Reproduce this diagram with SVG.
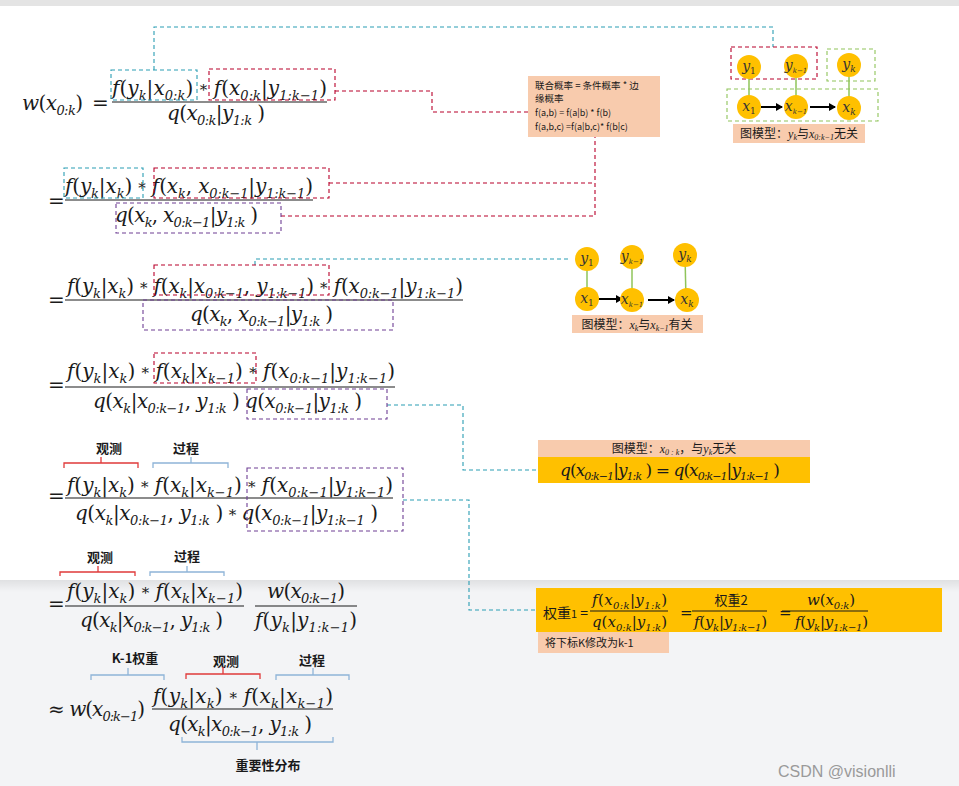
<svg xmlns="http://www.w3.org/2000/svg" width="959" height="786" viewBox="0 0 959 786">
<defs>
<style>
.m{font-family:"DejaVu Serif","Liberation Serif",serif;font-size:20px;font-style:italic;fill:#1a1a1a}
.m2{font-family:"DejaVu Serif","Liberation Serif",serif;font-size:15px;font-style:italic;fill:#1a1a1a}
.m3{font-family:"DejaVu Serif","Liberation Serif",serif;font-size:17px;font-style:italic;fill:#1a1a1a}
.u{font-style:normal}
.st{font-style:normal;font-size:15px}
.b{font-size:13px}
.b2{font-size:10px}
.b3{font-size:11px}
.cj{font-family:"Noto Sans CJK SC","Noto Sans",sans-serif;fill:#1a1a1a}
.lab{font-family:"Noto Sans CJK SC","Noto Sans",sans-serif;font-size:13px;font-weight:bold;fill:#1a1a1a;text-anchor:middle}
.bar{stroke:#1a1a1a;stroke-width:1.2}
.tb{fill:none;stroke:#2a9db3;stroke-width:1.1;stroke-dasharray:4 3}
.rb{fill:none;stroke:#b8002a;stroke-width:1.1;stroke-dasharray:4 3}
.pb{fill:none;stroke:#6e3f94;stroke-width:1.1;stroke-dasharray:4 3}
.gb{fill:none;stroke:#8fc45a;stroke-width:1.1;stroke-dasharray:4 3}
.br-r{fill:none;stroke:#e03a3a;stroke-width:1.3}
.br-b{fill:none;stroke:#8eb4d8;stroke-width:1.3}
.nd{fill:#ffc000}
.gl{stroke:#8fc45a;stroke-width:1.5}
.ar{stroke:#000;stroke-width:2;marker-end:url(#ah)}
.nl{font-family:"DejaVu Serif","Liberation Serif",serif;font-size:14px;font-style:italic;fill:#333;text-anchor:middle}
.peach{fill:#f8cbad}
.orange{fill:#ffc000}
</style>
<marker id="ah" markerWidth="8" markerHeight="8" refX="6" refY="4" orient="auto" markerUnits="userSpaceOnUse">
<path d="M0,0 L7,4 L0,8 z" fill="#000"/>
</marker>
<linearGradient id="sh" x1="0" y1="0" x2="0" y2="1">
<stop offset="0" stop-color="#000" stop-opacity="0.08"/>
<stop offset="1" stop-color="#000" stop-opacity="0"/>
</linearGradient>
</defs>

<rect x="0" y="0" width="959" height="786" fill="#f3f4f6"/>
<rect x="0" y="0" width="959" height="6" fill="#e4e4e4"/>
<rect x="0" y="6" width="959" height="574" fill="#ffffff"/>
<rect x="0" y="580" width="959" height="12" fill="url(#sh)"/>

<g id="connectors">
<polyline class="tb" points="154,70 154,27 773,27 773,47"/>
<polyline class="rb" points="335,91 432,91 432,112 528,112"/>
<polyline class="rb" points="329,183 595,183"/>
<polyline class="rb" points="281,216 595,216 595,137"/>
<polyline class="tb" points="255,265 255,259 568,259"/>
<polyline class="tb" points="387,405 463,405 463,470 538,470"/>
<polyline class="tb" points="403,500 469,500 469,610 536,610"/>
</g>

<g id="line1">
<text class="m" x="22" y="110" textLength="61">w<tspan class="u">(</tspan>x<tspan class="b" dy="5">0:k</tspan><tspan class="u" dy="-5">)</tspan></text>
<text class="m u" x="92" y="110">=</text>
<text class="m" x="112" y="95" textLength="215">f<tspan class="u">(</tspan>y<tspan class="b" dy="5">k</tspan><tspan class="u" dy="-5">|</tspan>x<tspan class="b" dy="5">0:k</tspan><tspan class="u" dy="-5">) </tspan><tspan class="st">*</tspan> f<tspan class="u">(</tspan>x<tspan class="b" dy="5">0:k</tspan><tspan class="u" dy="-5">|</tspan>y<tspan class="b" dy="5">1:k−1</tspan><tspan class="u" dy="-5">)</tspan></text>
<line class="bar" x1="112" y1="102" x2="327" y2="102"/>
<text class="m" x="167" y="120" textLength="98">q<tspan class="u">(</tspan>x<tspan class="b" dy="5">0:k</tspan><tspan class="u" dy="-5">|</tspan>y<tspan class="b" dy="5">1:k</tspan><tspan class="u" dy="-5"> )</tspan></text>
<rect class="tb" x="111" y="70" width="86" height="30"/>
<rect class="rb" x="209" y="69" width="126" height="31"/>
</g>

<g id="line2">
<text class="m u" x="48" y="208">=</text>
<text class="m" x="65" y="193" textLength="248">f<tspan class="u">(</tspan>y<tspan class="b" dy="5">k</tspan><tspan class="u" dy="-5">|</tspan>x<tspan class="b" dy="5">k</tspan><tspan class="u" dy="-5">) </tspan><tspan class="st">*</tspan> f<tspan class="u">(</tspan>x<tspan class="b" dy="5">k</tspan><tspan class="u" dy="-5">, </tspan>x<tspan class="b" dy="5">0:k−1</tspan><tspan class="u" dy="-5">|</tspan>y<tspan class="b" dy="5">1:k−1</tspan><tspan class="u" dy="-5">)</tspan></text>
<line class="bar" x1="65" y1="200" x2="313" y2="200"/>
<text class="m" x="115" y="222" textLength="143">q<tspan class="u">(</tspan>x<tspan class="b" dy="5">k</tspan><tspan class="u" dy="-5">, </tspan>x<tspan class="b" dy="5">0:k−1</tspan><tspan class="u" dy="-5">|</tspan>y<tspan class="b" dy="5">1:k</tspan><tspan class="u" dy="-5"> )</tspan></text>
<rect class="tb" x="64" y="168" width="79" height="30"/>
<rect class="rb" x="154" y="168" width="175" height="30"/>
<rect class="pb" x="116" y="203" width="165" height="30"/>
</g>

<g id="line3">
<text class="m u" x="48" y="307">=</text>
<text class="m" x="67" y="293" textLength="396">f<tspan class="u">(</tspan>y<tspan class="b" dy="5">k</tspan><tspan class="u" dy="-5">|</tspan>x<tspan class="b" dy="5">k</tspan><tspan class="u" dy="-5">) </tspan><tspan class="st">*</tspan> f<tspan class="u">(</tspan>x<tspan class="b" dy="5">k</tspan><tspan class="u" dy="-5">|</tspan>x<tspan class="b" dy="5">0:k−1</tspan><tspan class="u" dy="-5">, </tspan>y<tspan class="b" dy="5">1:k−1</tspan><tspan class="u" dy="-5">) </tspan><tspan class="st">*</tspan> f<tspan class="u">(</tspan>x<tspan class="b" dy="5">0:k−1</tspan><tspan class="u" dy="-5">|</tspan>y<tspan class="b" dy="5">1:k−1</tspan><tspan class="u" dy="-5">)</tspan></text>
<line class="bar" x1="65" y1="300" x2="463" y2="300"/>
<text class="m" x="190" y="321" textLength="143">q<tspan class="u">(</tspan>x<tspan class="b" dy="5">k</tspan><tspan class="u" dy="-5">, </tspan>x<tspan class="b" dy="5">0:k−1</tspan><tspan class="u" dy="-5">|</tspan>y<tspan class="b" dy="5">1:k</tspan><tspan class="u" dy="-5"> )</tspan></text>
<rect class="rb" x="154" y="265" width="175" height="30"/>
<rect class="pb" x="143" y="300" width="250" height="30"/>
</g>

<g id="line4">
<text class="m u" x="48" y="392">=</text>
<text class="m" x="67" y="378" textLength="328">f<tspan class="u">(</tspan>y<tspan class="b" dy="5">k</tspan><tspan class="u" dy="-5">|</tspan>x<tspan class="b" dy="5">k</tspan><tspan class="u" dy="-5">) </tspan><tspan class="st">*</tspan> f<tspan class="u">(</tspan>x<tspan class="b" dy="5">k</tspan><tspan class="u" dy="-5">|</tspan>x<tspan class="b" dy="5">k−1</tspan><tspan class="u" dy="-5">) </tspan><tspan class="st">*</tspan> f<tspan class="u">(</tspan>x<tspan class="b" dy="5">0:k−1</tspan><tspan class="u" dy="-5">|</tspan>y<tspan class="b" dy="5">1:k−1</tspan><tspan class="u" dy="-5">)</tspan></text>
<line class="bar" x1="65" y1="387" x2="395" y2="387"/>
<text class="m" x="93" y="408" textLength="269">q<tspan class="u">(</tspan>x<tspan class="b" dy="5">k</tspan><tspan class="u" dy="-5">|</tspan>x<tspan class="b" dy="5">0:k−1</tspan><tspan class="u" dy="-5">, </tspan>y<tspan class="b" dy="5">1:k</tspan><tspan class="u" dy="-5"> ) </tspan>q<tspan class="u">(</tspan>x<tspan class="b" dy="5">0:k−1</tspan><tspan class="u" dy="-5">|</tspan>y<tspan class="b" dy="5">1:k</tspan><tspan class="u" dy="-5"> )</tspan></text>
<rect class="rb" x="154" y="353" width="102" height="30"/>
<rect class="pb" x="247" y="389" width="140" height="30"/>
</g>

<g id="line5">
<text class="lab" x="109" y="453">观测</text>
<text class="lab" x="186" y="453">过程</text>
<path class="br-r" d="M64,468 V463 H138 V468 M101,463 V457"/>
<path class="br-b" d="M153,468 V463 H228 V468 M191,463 V457"/>
<text class="m u" x="48" y="503">=</text>
<text class="m" x="67" y="492" textLength="326">f<tspan class="u">(</tspan>y<tspan class="b" dy="5">k</tspan><tspan class="u" dy="-5">|</tspan>x<tspan class="b" dy="5">k</tspan><tspan class="u" dy="-5">) </tspan><tspan class="st">*</tspan> f<tspan class="u">(</tspan>x<tspan class="b" dy="5">k</tspan><tspan class="u" dy="-5">|</tspan>x<tspan class="b" dy="5">k−1</tspan><tspan class="u" dy="-5">) </tspan><tspan class="st">*</tspan> f<tspan class="u">(</tspan>x<tspan class="b" dy="5">0:k−1</tspan><tspan class="u" dy="-5">|</tspan>y<tspan class="b" dy="5">1:k−1</tspan><tspan class="u" dy="-5">)</tspan></text>
<line class="bar" x1="65" y1="498" x2="393" y2="498"/>
<text class="m" x="75" y="520" textLength="303">q<tspan class="u">(</tspan>x<tspan class="b" dy="5">k</tspan><tspan class="u" dy="-5">|</tspan>x<tspan class="b" dy="5">0:k−1</tspan><tspan class="u" dy="-5">, </tspan>y<tspan class="b" dy="5">1:k</tspan><tspan class="u" dy="-5"> )  </tspan><tspan class="st">*</tspan> q<tspan class="u">(</tspan>x<tspan class="b" dy="5">0:k−1</tspan><tspan class="u" dy="-5">|</tspan>y<tspan class="b" dy="5">1:k−1</tspan><tspan class="u" dy="-5"> )</tspan></text>
<rect class="pb" x="247" y="468" width="156" height="63"/>
</g>

<g id="line6">
<text class="lab" x="100" y="562">观测</text>
<text class="lab" x="187" y="561">过程</text>
<path class="br-r" d="M60,576 V572 H135 V576 M98,572 V566"/>
<path class="br-b" d="M150,576 V572 H224 V576 M187,572 V566"/>
<text class="m u" x="48" y="611">=</text>
<text class="m" x="67" y="598" textLength="176">f<tspan class="u">(</tspan>y<tspan class="b" dy="5">k</tspan><tspan class="u" dy="-5">|</tspan>x<tspan class="b" dy="5">k</tspan><tspan class="u" dy="-5">) </tspan><tspan class="st">*</tspan> f<tspan class="u">(</tspan>x<tspan class="b" dy="5">k</tspan><tspan class="u" dy="-5">|</tspan>x<tspan class="b" dy="5">k−1</tspan><tspan class="u" dy="-5">)</tspan></text>
<line class="bar" x1="65" y1="606" x2="244" y2="606"/>
<text class="m" x="80" y="627" textLength="143">q<tspan class="u">(</tspan>x<tspan class="b" dy="5">k</tspan><tspan class="u" dy="-5">|</tspan>x<tspan class="b" dy="5">0:k−1</tspan><tspan class="u" dy="-5">, </tspan>y<tspan class="b" dy="5">1:k</tspan><tspan class="u" dy="-5"> )</tspan></text>
<text class="m" x="267" y="598" textLength="78">w<tspan class="u">(</tspan>x<tspan class="b" dy="5">0:k−1</tspan><tspan class="u" dy="-5">)</tspan></text>
<line class="bar" x1="255" y1="606" x2="357" y2="606"/>
<text class="m" x="255" y="627" textLength="102">f<tspan class="u">(</tspan>y<tspan class="b" dy="5">k</tspan><tspan class="u" dy="-5">|</tspan>y<tspan class="b" dy="5">1:k−1</tspan><tspan class="u" dy="-5">)</tspan></text>
</g>

<g id="line7">
<text class="lab" x="135" y="663">K-1权重</text>
<text class="lab" x="226" y="666">观测</text>
<text class="lab" x="312" y="665">过程</text>
<path class="br-b" d="M91,680 V675 H164 V680 M128,675 V668"/>
<path class="br-r" d="M186,679 V674 H260 V679 M223,674 V667"/>
<path class="br-b" d="M276,680 V675 H349 V680 M313,675 V668"/>
<text class="m" x="48" y="716" textLength="97"><tspan class="u">≈ </tspan>w<tspan class="u">(</tspan>x<tspan class="b" dy="5">0:k−1</tspan><tspan class="u" dy="-5">)</tspan></text>
<text class="m" x="153" y="703" textLength="180">f<tspan class="u">(</tspan>y<tspan class="b" dy="5">k</tspan><tspan class="u" dy="-5">|</tspan>x<tspan class="b" dy="5">k</tspan><tspan class="u" dy="-5">) </tspan><tspan class="st">*</tspan> f<tspan class="u">(</tspan>x<tspan class="b" dy="5">k</tspan><tspan class="u" dy="-5">|</tspan>x<tspan class="b" dy="5">k−1</tspan><tspan class="u" dy="-5">)</tspan></text>
<line class="bar" x1="152" y1="709" x2="333" y2="709"/>
<text class="m" x="168" y="731" textLength="144">q<tspan class="u">(</tspan>x<tspan class="b" dy="5">k</tspan><tspan class="u" dy="-5">|</tspan>x<tspan class="b" dy="5">0:k−1</tspan><tspan class="u" dy="-5">, </tspan>y<tspan class="b" dy="5">1:k</tspan><tspan class="u" dy="-5"> )</tspan></text>
<path class="br-b" d="M182,737 V742 H333 V737 M257,742 V750"/>
<text class="lab" x="268" y="770">重要性分布</text>
</g>

<g id="note">
<rect class="peach" x="528" y="76" width="132" height="61"/>
<text class="cj" x="535" y="89" font-size="9.5">联合概率 = 条件概率 * 边</text>
<text class="cj" x="535" y="102" font-size="9.5">缘概率</text>
<text class="cj" x="535" y="116" font-size="9">f(a,b) = f(a|b) * f(b)</text>
<text class="cj" x="535" y="130" font-size="9">f(a,b,c) =f(a|b,c)* f(b|c)</text>
</g>

<g id="graph1">
<rect class="rb" x="731" y="47" width="86" height="32"/>
<rect class="gb" x="827" y="49" width="48" height="32"/>
<rect class="gb" x="727" y="89" width="151" height="32"/>
<line class="gl" x1="749" y1="67" x2="749" y2="107"/>
<line class="gl" x1="796" y1="66" x2="796" y2="107"/>
<line class="gl" x1="849" y1="65" x2="849" y2="108"/>
<line class="ar" x1="761" y1="107" x2="782" y2="107"/>
<line class="ar" x1="810" y1="107" x2="835" y2="107"/>
<circle class="nd" cx="749" cy="67" r="12"/>
<circle class="nd" cx="796" cy="66" r="12"/>
<circle class="nd" cx="849" cy="65" r="12"/>
<circle class="nd" cx="749" cy="107" r="12"/>
<circle class="nd" cx="796" cy="107" r="12"/>
<circle class="nd" cx="849" cy="108" r="12"/>
<text class="nl" x="749" y="71">y<tspan font-size="9" font-style="normal" dy="3">1</tspan></text>
<text class="nl" x="796" y="70" font-size="12">y<tspan font-size="7" dy="3">k−1</tspan></text>
<text class="nl" x="849" y="69">y<tspan font-size="9" dy="3">k</tspan></text>
<text class="nl" x="749" y="111">x<tspan font-size="9" font-style="normal" dy="3">1</tspan></text>
<text class="nl" x="796" y="111" font-size="12">x<tspan font-size="7" dy="3">k−1</tspan></text>
<text class="nl" x="849" y="112">x<tspan font-size="9" dy="3">k</tspan></text>
<rect class="peach" x="733" y="124" width="132" height="19"/>
<text class="cj" x="799" y="138" font-size="12" text-anchor="middle">图模型：<tspan font-family="Liberation Serif,serif" font-style="italic">y</tspan><tspan font-family="Liberation Serif,serif" font-style="italic" font-size="8" dy="2">k</tspan><tspan dy="-2">与</tspan><tspan font-family="Liberation Serif,serif" font-style="italic">x</tspan><tspan font-family="Liberation Serif,serif" font-style="italic" font-size="8" dy="2">0:k−1</tspan><tspan dy="-2">无关</tspan></text>
</g>

<g id="graph2">
<line class="gl" x1="587" y1="259" x2="587" y2="299"/>
<line class="gl" x1="632" y1="257" x2="632" y2="300"/>
<line class="gl" x1="685" y1="255" x2="686" y2="300"/>
<line class="ar" x1="598" y1="299" x2="622" y2="299"/>
<line class="ar" x1="648" y1="300" x2="674" y2="300"/>
<circle class="nd" cx="587" cy="259" r="12"/>
<circle class="nd" cx="632" cy="257" r="12"/>
<circle class="nd" cx="685" cy="255" r="12"/>
<circle class="nd" cx="587" cy="299" r="12"/>
<circle class="nd" cx="632" cy="300" r="12"/>
<circle class="nd" cx="687" cy="300" r="12"/>
<text class="nl" x="587" y="263">y<tspan font-size="9" font-style="normal" dy="3">1</tspan></text>
<text class="nl" x="632" y="261" font-size="12">y<tspan font-size="7" dy="3">k−1</tspan></text>
<text class="nl" x="685" y="259">y<tspan font-size="9" dy="3">k</tspan></text>
<text class="nl" x="587" y="303">x<tspan font-size="9" font-style="normal" dy="3">1</tspan></text>
<text class="nl" x="632" y="304" font-size="12">x<tspan font-size="7" dy="3">k−1</tspan></text>
<text class="nl" x="687" y="304">x<tspan font-size="9" dy="3">k</tspan></text>
<rect class="peach" x="572" y="315" width="131" height="18"/>
<text class="cj" x="637" y="329" font-size="12" text-anchor="middle">图模型：<tspan font-family="Liberation Serif,serif" font-style="italic">x</tspan><tspan font-family="Liberation Serif,serif" font-style="italic" font-size="8" dy="2">k</tspan><tspan dy="-2">与</tspan><tspan font-family="Liberation Serif,serif" font-style="italic">x</tspan><tspan font-family="Liberation Serif,serif" font-style="italic" font-size="8" dy="2">k−1</tspan><tspan dy="-2">有关</tspan></text>
</g>

<g id="box3">
<rect class="peach" x="538" y="440" width="272" height="17"/>
<rect class="orange" x="538" y="457" width="272" height="26"/>
<text class="cj" x="674" y="453" font-size="12" text-anchor="middle">图模型：<tspan font-family="Liberation Serif,serif" font-style="italic">x</tspan><tspan font-family="Liberation Serif,serif" font-style="italic" font-size="8" dy="2">0 : k</tspan><tspan dy="-2">，与</tspan><tspan font-family="Liberation Serif,serif" font-style="italic">y</tspan><tspan font-family="Liberation Serif,serif" font-style="italic" font-size="8" dy="2">k</tspan><tspan dy="-2">无关</tspan></text>
<text class="m3" x="560" y="476" textLength="220">q<tspan class="u">(</tspan>x<tspan class="b3" dy="4">0:k−1</tspan><tspan class="u" dy="-4">|</tspan>y<tspan class="b3" dy="4">1:k</tspan><tspan class="u" dy="-4"> )  = </tspan>q<tspan class="u">(</tspan>x<tspan class="b3" dy="4">0:k−1</tspan><tspan class="u" dy="-4">|</tspan>y<tspan class="b3" dy="4">1:k−1</tspan><tspan class="u" dy="-4"> )</tspan></text>
</g>

<g id="box4">
<rect class="orange" x="536" y="588" width="406" height="44"/>
<rect class="peach" x="538" y="632" width="131" height="21"/>
<text class="cj" x="543" y="618" font-size="14">权重<tspan font-size="11">1</tspan> =</text>
<text class="m2" x="592" y="605" textLength="75">f<tspan class="u">(</tspan>x<tspan class="b2" dy="4">0:k</tspan><tspan class="u" dy="-4">|</tspan>y<tspan class="b2" dy="4">1:k</tspan><tspan class="u" dy="-4">)</tspan></text>
<line class="bar" x1="590" y1="611" x2="668" y2="611"/>
<text class="m2" x="592" y="627" textLength="75">q<tspan class="u">(</tspan>x<tspan class="b2" dy="4">0:k</tspan><tspan class="u" dy="-4">|</tspan>y<tspan class="b2" dy="4">1:k</tspan><tspan class="u" dy="-4">)</tspan></text>
<text class="m2 u" x="680" y="618">=</text>
<text class="cj" x="731" y="605" font-size="13" text-anchor="middle">权重2</text>
<line class="bar" x1="692" y1="611" x2="767" y2="611"/>
<text class="m2" x="694" y="627" textLength="73">f<tspan class="u">(</tspan>y<tspan class="b2" dy="4">k</tspan><tspan class="u" dy="-4">|</tspan>y<tspan class="b2" dy="4">1:k−1</tspan><tspan class="u" dy="-4">)</tspan></text>
<text class="m2 u" x="779" y="618">=</text>
<text class="m2" x="807" y="605" textLength="48">w<tspan class="u">(</tspan>x<tspan class="b2" dy="4">0:k</tspan><tspan class="u" dy="-4">)</tspan></text>
<line class="bar" x1="782" y1="611" x2="868" y2="611"/>
<text class="m2" x="795" y="627" textLength="73">f<tspan class="u">(</tspan>y<tspan class="b2" dy="4">k</tspan><tspan class="u" dy="-4">|</tspan>y<tspan class="b2" dy="4">1:k−1</tspan><tspan class="u" dy="-4">)</tspan></text>
<text class="cj" x="545" y="647" font-size="11">将下标K修改为k-1</text>
</g>

<text x="778" y="777" font-family="Liberation Sans,Noto Sans,sans-serif" font-size="16" fill="#9a9a9a">CSDN @visionlli</text>
</svg>
